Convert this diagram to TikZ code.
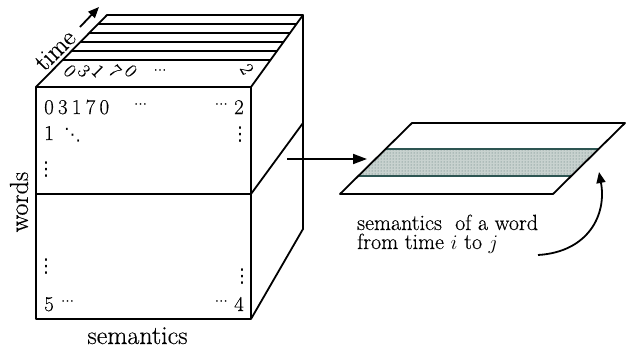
\documentclass[tikz,border=0pt]{standalone}
\usepackage{fontspec}
\setmainfont{Latin Modern Roman}[UprightFeatures={FakeBold=0.35}]
\newfontfamily\symfont{DejaVu Sans}
\usetikzlibrary{arrows.meta,calc,patterns}
\definecolor{bandfill}{RGB}{200,210,207}
\definecolor{banddot}{RGB}{80,112,110}
\definecolor{bandedge}{RGB}{45,85,82}
\newcommand\mydots{\raisebox{0.25em}{\symfont\fontsize{13}{13}\selectfont ⋯}}
\newcommand\myddots{{\symfont\fontsize{17}{17}\selectfont ⋱}}
\newcommand\myvdots{{\symfont\fontsize{19}{19}\selectfont ⋮}}
\begin{document}
\begin{tikzpicture}[x=1pt,y=-1pt,
  edge/.style={line width=1.8pt, line join=round},
  lab/.style={font=\fontsize{26}{30}\selectfont, inner sep=0pt},
  cell/.style={font=\fontsize{21}{25}\selectfont, inner sep=0pt},
  topd/.style={font=\fontsize{19}{21}\selectfont, inner sep=0pt, rotate=-45},
  note/.style={font=\fontsize{22}{26}\selectfont, inner sep=0pt, anchor=base west},
  bigtip/.style={-{Triangle[length=14pt,width=10pt]}},
  smalltip/.style={-{Triangle[length=11pt,width=9pt]}}]
\useasboundingbox (0,0) rectangle (627,351);

% cube corners
\coordinate (A) at (36,87);
\coordinate (B) at (251,87);
\coordinate (C) at (251,319);
\coordinate (D) at (36,319);
\coordinate (E) at (107,15);
\coordinate (F) at (303,15);
\coordinate (G) at (303,229);
\coordinate (H) at (303,123);
\coordinate (M1) at (36,194);
\coordinate (M2) at (251,194);

\draw[edge] (A) -- (B) -- (C) -- (D) -- cycle;
\draw[edge] (M1) -- (M2);
\draw[edge] (A) -- (E) -- (F) -- (B);
\draw[edge] (F) -- (G) -- (C);
\draw[edge] (M2) -- (H);
\foreach \t in {0.375,0.5,0.625,0.75,0.875}
  \draw[edge] ($(A)!\t!(E)$) -- ($(B)!\t!(F)$);

% time arrow and labels
\coordinate (t0) at (80,27);
\coordinate (t1) at (99,7);
\draw[edge, smalltip] (t0) -- (t1);
\node[lab, rotate=45] (time) at (55,50) {time};
\node[lab, rotate=90] (words) at (19,202) {words};
\node[lab, anchor=base] (sem) at (137.5,344) {semantics};

% top face digits
\foreach \x/\c [count=\i] in {70/0,84/3,98/1,115/7,131/0}
  \node[topd] (tc\i) at (\x,71) {\c};
\node[inner sep=0pt] (tdots) at (160,72) {\symfont\fontsize{13}{13}\selectfont ⋯};
\node[topd, rotate=-15] (t2) at (247,69) {2};

% front face entries
\node[cell, anchor=base west] (r1) at (44,114) {0\hspace{0.2em}3\hspace{0.2em}1\hspace{0.2em}7\hspace{0.2em}0};
\node[cell, anchor=base west] (r1d) at (134,114) {\mydots};
\node[cell, anchor=base east] (r1r) at (244,114) {\mydots\ 2};
\node[cell, anchor=base west] (r2) at (44,140) {1};
\node[cell, anchor=base west] (r2d) at (64,140) {\myddots};
\node[cell, anchor=base] (v1) at (240,140) {\myvdots};
\node[cell, anchor=base] (v2) at (46,175) {\myvdots};
\node[cell, anchor=base] (v3) at (46,272) {\myvdots};
\node[cell, anchor=base] (v4) at (242,282) {\myvdots};
\node[cell, anchor=base west] (r5) at (44,311) {5};
\node[cell, anchor=base west] (r5d) at (61,311) {\mydots};
\node[cell, anchor=base east] (r4) at (244,311) {\mydots\ 4};

% arrow to the slice
\coordinate (s0) at (287,159);
\coordinate (s1) at (367,159);
\draw[edge, bigtip] (s0) -- (s1);

% slice plane
\coordinate (P1) at (412,123);
\coordinate (P2) at (625,123);
\coordinate (P3) at (553,194);
\coordinate (P4) at (340,194);
\coordinate (Q1) at ($(P4)!0.634!(P1)$);
\coordinate (Q2) at ($(P3)!0.634!(P2)$);
\coordinate (Q3) at ($(P3)!0.2535!(P2)$);
\coordinate (Q4) at ($(P4)!0.2535!(P1)$);
\fill[bandfill] (Q1) -- (Q2) -- (Q3) -- (Q4) -- cycle;
\fill[pattern=dots, pattern color=banddot] (Q1) -- (Q2) -- (Q3) -- (Q4) -- cycle;
\draw[line width=1.4pt, bandedge] (Q1) -- (Q2) (Q3) -- (Q4);
\draw[edge] (P1) -- (P2) -- (P3) -- (P4) -- cycle;

% caption
\node[note] (n1) at (357,230) {semantics\ \ of a word};
\node[note] (n2) at (357,249) {from time $i$ to $j$};
\coordinate (c0) at (538,255);
\coordinate (c1) at (599,172);
\draw[edge, smalltip] (c0) .. controls (588,252) and (607,215) .. (c1);
\end{tikzpicture}
\end{document}
